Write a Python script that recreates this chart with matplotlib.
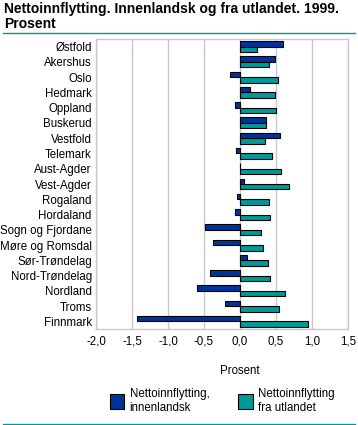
import matplotlib
matplotlib.use("Agg")
import matplotlib.pyplot as plt
from matplotlib.patches import Patch
from matplotlib.lines import Line2D
import numpy as np

categories = ["Østfold", "Akershus", "Oslo", "Hedmark", "Oppland", "Buskerud",
              "Vestfold", "Telemark", "Aust-Agder", "Vest-Agder", "Rogaland",
              "Hordaland", "Sogn og Fjordane", "Møre og Romsdal", "Sør-Trøndelag",
              "Nord-Trøndelag", "Nordland", "Troms", "Finnmark"]
innenlandsk = [0.60, 0.49, -0.14, 0.14, -0.07, 0.36, 0.56, -0.05, 0.005, 0.06,
               -0.04, -0.07, -0.49, -0.38, 0.10, -0.41, -0.60, -0.21, -1.43]
utlandet = [0.24, 0.40, 0.53, 0.49, 0.50, 0.36, 0.35, 0.44, 0.57, 0.68,
            0.40, 0.42, 0.29, 0.32, 0.39, 0.42, 0.63, 0.54, 0.94]
xticks = [-2.0, -1.5, -1.0, -0.5, 0.0, 0.5, 1.0, 1.5]
xticklabels = ["-2,0", "-1,5", "-1,0", "-0,5", "0,0", "0,5", "1,0", "1,5"]
series_names = ["Nettoinnflytting,\ninnenlandsk", "Nettoinnflytting\nfra utlandet"]

blue = "#003399"
teal = "#009999"
W, H = 358, 425
plt.rcParams['font.family'] = ['Liberation Sans', 'DejaVu Sans']
fig = plt.figure(figsize=(W/100, H/100), dpi=100)
fs = 8.3

ax = fig.add_axes([96/W, 1-329/H, (348-96)/W, (329-39)/H])
n = len(categories)
y = np.arange(n)
h = 0.36
ax.barh(y - h/2, innenlandsk, height=h, color=blue, edgecolor="black", linewidth=0.8, zorder=3)
ax.barh(y + h/2, utlandet, height=h, color=teal, edgecolor="black", linewidth=0.8, zorder=3)
ax.set_ylim(n - 0.5, -0.5)
ax.set_xlim(-2.0, 1.5)
ax.set_xticks(xticks)
ax.set_xticklabels(xticklabels, fontsize=fs)
ax.set_yticks(y)
ax.set_yticklabels(categories, fontsize=fs)
ax.tick_params(length=0, pad=3)
ax.tick_params(axis='x', pad=5)
ax.grid(axis='x', color="#c8c8c8", linewidth=1, zorder=0)
for s in ax.spines.values():
    s.set_color("#c8c8c8")
    s.set_linewidth(1)
ax.set_xlabel("Prosent", fontsize=fs)
ax.xaxis.set_label_coords(2.0/3.5, -0.125)

fig.text(4/W, 1-2/H, "Nettoinnflytting. Innenlandsk og fra utlandet. 1999.\nProsent",
         fontsize=10, fontweight='bold', va='top', ha='left', linespacing=1.05)
fig.add_artist(Line2D([3/W, 355/W], [1-33/H, 1-33/H], color=teal, linewidth=1))
fig.add_artist(Line2D([3/W, 355/W], [1-423.5/H, 1-423.5/H], color=teal, linewidth=1))

handles = [Patch(facecolor=blue, edgecolor="black", linewidth=0.8),
           Patch(facecolor=teal, edgecolor="black", linewidth=0.8)]
fig.legend(handles, series_names, loc='upper left', bbox_to_anchor=(110/W, 1-388/H),
           ncol=2, frameon=False, fontsize=fs, handlelength=1.25, handleheight=1.7,
           handletextpad=0.45, columnspacing=2.5, borderaxespad=0, borderpad=0)

fig.savefig("out.png", dpi=100)
